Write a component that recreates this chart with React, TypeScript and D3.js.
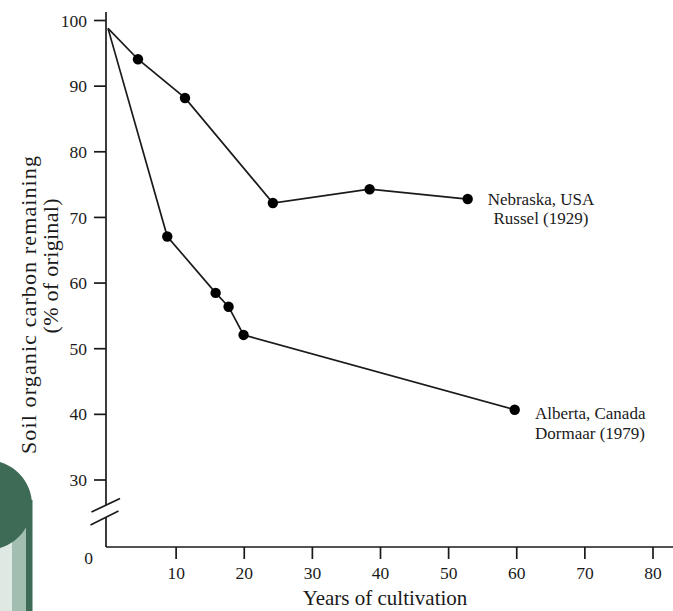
import React, { useEffect, useRef } from 'react';
import * as d3 from 'd3';

// values
const nebraskaYears = [0, 4.4, 11.3, 24.2, 38.4, 52.8];
const nebraskaCarbon = [98.8, 94.1, 88.2, 72.2, 74.3, 72.8];
const albertaYears = [0, 8.7, 15.8, 17.7, 19.9, 59.7];
const albertaCarbon = [98.8, 67.1, 58.5, 56.4, 52.1, 40.7];

const yTicks = [30, 40, 50, 60, 70, 80, 90, 100];
const xTicks = [10, 20, 30, 40, 50, 60, 70, 80];

const nebraskaLabel = ['Nebraska, USA', 'Russel (1929)'];
const albertaLabel = ['Alberta, Canada', 'Dormaar (1979)'];

const FONT = '"Liberation Serif", "Times New Roman", "DejaVu Serif", serif';
const INK = '#1a1a1a';

function App() {
  const ref = useRef<SVGSVGElement>(null);

  useEffect(() => {
    const width = 673, height = 611;
    const svg = d3.select(ref.current);
    svg.selectAll('*').remove();

    const x = d3.scaleLinear().domain([0, 80]).range([108, 653]);
    const y = d3.scaleLinear().domain([30, 100]).range([480, 20.5]);
    const axisX = 106, baseY = 547;

    // green decoration bottom-left
    const deco = svg.append('g');
    deco.append('rect').attr('x', 0).attr('y', 500).attr('width', 12).attr('height', 111).attr('fill', '#dfe9e3');
    deco.append('rect').attr('x', 12).attr('y', 500).attr('width', 14).attr('height', 111).attr('fill', '#a2beb0');
    deco.append('rect').attr('x', 26).attr('y', 500).attr('width', 6.5).attr('height', 111).attr('fill', '#3d6b56');
    deco.append('circle').attr('cx', -13).attr('cy', 505).attr('r', 45).attr('fill', '#3d6b56');

    const axes = svg.append('g').attr('stroke', INK).attr('stroke-width', 1.7).attr('fill', 'none');
    // y axis with break
    axes.append('line').attr('x1', axisX).attr('x2', axisX).attr('y1', 12).attr('y2', 505);
    axes.append('line').attr('x1', axisX).attr('x2', axisX).attr('y1', 517).attr('y2', baseY);
    axes.append('line').attr('x1', 91.5).attr('y1', 512).attr('x2', 120).attr('y2', 498.5);
    axes.append('line').attr('x1', 90.5).attr('y1', 525).attr('x2', 118.5).attr('y2', 511);
    // x axis
    axes.append('line').attr('x1', axisX).attr('x2', 673).attr('y1', baseY).attr('y2', baseY);

    axes.append('g').selectAll('line').data(yTicks).join('line')
      .attr('x1', 94).attr('x2', axisX)
      .attr('y1', d => y(d)).attr('y2', d => y(d));
    axes.append('g').selectAll('line').data(xTicks).join('line')
      .attr('x1', d => x(d)).attr('x2', d => x(d))
      .attr('y1', baseY).attr('y2', baseY + 12);

    const txt = svg.append('g').attr('font-family', FONT).attr('fill', INK);
    txt.append('g').attr('font-size', 17.5).attr('text-anchor', 'end')
      .selectAll('text').data(yTicks).join('text')
      .attr('x', 87).attr('y', d => y(d)).attr('dy', '0.35em')
      .text(d => d);
    txt.append('text').attr('font-size', 17.5).attr('text-anchor', 'end')
      .attr('x', 93).attr('y', 558).attr('dy', '0.35em').text('0');
    txt.append('g').attr('font-size', 17.5).attr('text-anchor', 'middle')
      .selectAll('text').data(xTicks).join('text')
      .attr('x', d => x(d)).attr('y', 573).attr('dy', '0.35em')
      .text(d => d);

    txt.append('text').attr('font-size', 21).attr('text-anchor', 'middle')
      .attr('x', 385).attr('y', 598).attr('dy', '0.35em')
      .text('Years of cultivation');

    txt.append('text').attr('font-size', 22).attr('text-anchor', 'middle')
      .attr('transform', 'translate(28,305) rotate(-90)').attr('dy', '0.35em')
      .attr('textLength', 298).attr('lengthAdjust', 'spacing')
      .text('Soil organic carbon remaining');
    txt.append('text').attr('font-size', 22).attr('text-anchor', 'middle')
      .attr('transform', 'translate(50,266) rotate(-90)').attr('dy', '0.35em')
      .attr('textLength', 135).attr('lengthAdjust', 'spacing')
      .text('(% of original)');

    // series
    const series = [
      { xs: nebraskaYears, ys: nebraskaCarbon },
      { xs: albertaYears, ys: albertaCarbon },
    ];
    const line = d3.line();

    series.forEach(s => {
      const pts = s.xs.map((v, i) => [x(v), y(s.ys[i])] as [number, number]);
      svg.append('path')
        .attr('d', line(pts))
        .attr('fill', 'none').attr('stroke', INK).attr('stroke-width', 1.7);
      svg.append('g').selectAll('circle').data(pts.slice(1)).join('circle')
        .attr('cx', d => d[0]).attr('cy', d => d[1]).attr('r', 5.2)
        .attr('fill', '#000');
    });

    // series labels
    txt.append('g').attr('font-size', 17).attr('text-anchor', 'middle')
      .selectAll('text').data(nebraskaLabel).join('text')
      .attr('x', 541).attr('y', (d, i) => 199 + i * 19.5).attr('dy', '0.35em')
      .text(d => d);
    txt.append('g').attr('font-size', 17).attr('text-anchor', 'start')
      .selectAll('text').data(albertaLabel).join('text')
      .attr('x', 535).attr('y', (d, i) => 413 + i * 20).attr('dy', '0.35em')
      .text(d => d);

    svg.attr('width', width).attr('height', height);
  }, []);

  return (
    <svg ref={ref} width={673} height={611}
      style={{ position: 'absolute', left: 0, top: 0, background: '#fff' }} />
  );
}

export default App;
